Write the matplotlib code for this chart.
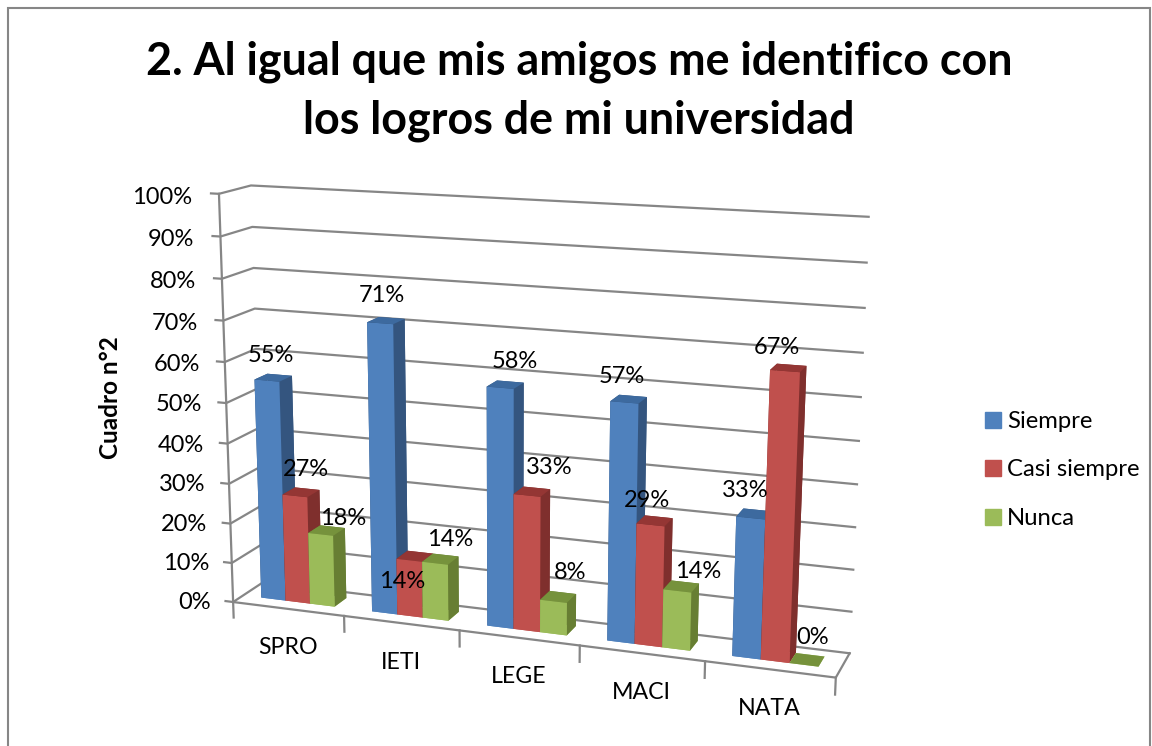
import numpy as np
import matplotlib
matplotlib.use('Agg')
import matplotlib.pyplot as plt
from matplotlib.patches import Patch, Rectangle
from mpl_toolkits.mplot3d import proj3d

categories = ['SPRO', 'IETI', 'LEGE', 'MACI', 'NATA']
series = ['Siempre', 'Casi siempre', 'Nunca']
siempre = [55, 71, 58, 57, 33]
casi_siempre = [27, 14, 33, 29, 67]
nunca = [18, 14, 8, 14, 0]
yticks = list(range(0, 101, 10))

plt.rcParams['font.family'] = ['Lato', 'DejaVu Sans']
W, H = 1152, 746
fig = plt.figure(figsize=(W/100, H/100), dpi=100)
ax = fig.add_axes([0.1231, -0.0868, 0.6583, 1.0166], projection='3d', computed_zorder=False)
ax.set_xlim(0, 5); ax.set_ylim(0, 1); ax.set_zlim(0, 100)
ax.set_axis_off()
ax.patch.set_alpha(0)

# camera found by fitting the wall corners
ax.view_init(elev=14.0005, azim=-70.5581, roll=-0.1685)
ax.set_proj_type('persp', focal_length=0.4921)
ax.set_box_aspect((1, 0.1087, 0.6732))

grey = '#868686'
def line3d(xs, ys, zs):
    ax.plot(xs, ys, zs, color=grey, lw=1.6, zorder=1)

for t in yticks:
    line3d([-0.07, 0, 0, 5], [0, 0, 1, 1], [t, t, t, t])
line3d([0, 0], [0, 0], [0, 100])
line3d([0, 5, 5], [0, 0, 1], [0, 0, 0])
for k in range(6):
    line3d([k, k], [0, 0], [0, -4])

colors = [('#4F81BD', '#34557F', '#3D6A9F'),
          ('#C0504D', '#7F2F2D', '#943634'),
          ('#9BBB59', '#677E33', '#76923C')]
values = [siempre, casi_siempre, nunca]
bw = 1/4.5
y0, dy = 0.33, 0.42
for c in range(5):
    for j in range(3):
        fr, si, to = colors[j]
        x = c + 0.75*bw + j*bw
        # bar3d faces: bottom, top, front, back, left, right
        ax.bar3d(x, y0, 0, bw, dy, values[j][c], color=[fr, to, fr, si, si, si],
                 shade=False, zorder=2+c*3+j)

# the labels were moved by hand in the original, so each has its own offset
label_off = [[(4,25),(2,28),(15,26),(-3,26),(-5,28)],
             [(11,26),(-7,-21),(22,28),(-3,24),(-8,24)],
             [(23,16),(15,24),(17,29),(21,19),(9,27)]]
M = ax.get_proj()
def proj(x, y, z):
    tx, ty, _ = proj3d.proj_transform(x, y, z, M)
    return tx, ty

fs = 17
for j in range(3):
    for c in range(5):
        x = c + 0.75*bw + (j+0.5)*bw
        ax.annotate('%d%%' % values[j][c], xy=proj(x, y0, values[j][c]), xycoords='data',
                    xytext=label_off[j][c], textcoords='offset pixels', ha='center', va='center',
                    fontsize=fs, color='black', zorder=50, annotation_clip=False)
for t in yticks:
    ax.annotate('%d%%' % t, xy=proj(0, 0, t), xycoords='data', xytext=(-22-t*0.05, -t*0.035), textcoords='offset pixels',
                ha='right', va='center', fontsize=fs, zorder=50, annotation_clip=False)
for c, name in enumerate(categories):
    ax.annotate(name, xy=proj(c+0.5, 0, 0), xycoords='data', xytext=(0, -39), textcoords='offset pixels',
                ha='center', va='center', fontsize=fs-0.3, zorder=50, annotation_clip=False)

fig.text(579/W, 1-62/H, '2. Al igual que mis amigos me identifico con', ha='center', va='center',
         fontsize=32.3, fontweight='bold')
fig.text(579/W, 1-121/H, 'los logros de mi universidad', ha='center', va='center',
         fontsize=32.3, fontweight='bold')
fig.text(110/W, 1-398/H, 'Cuadro n°2', rotation=90, ha='center', va='center', fontsize=17.5, fontweight='bold')
handles = [Patch(color=colors[i][0], label=series[i]) for i in range(3)]
fig.legend(handles=handles, loc='center left', bbox_to_anchor=(985/W, 1-470/H), frameon=False, fontsize=17.2,
           handlelength=0.65, handleheight=0.65, handletextpad=0.27, labelspacing=1.15, borderpad=0, borderaxespad=0)
fig.patches.append(Rectangle((8/W, -0.1), 1142/W, 1.1-8/H, transform=fig.transFigure, fill=False, ec=grey, lw=1.5))
fig.savefig('out.png', dpi=100)
